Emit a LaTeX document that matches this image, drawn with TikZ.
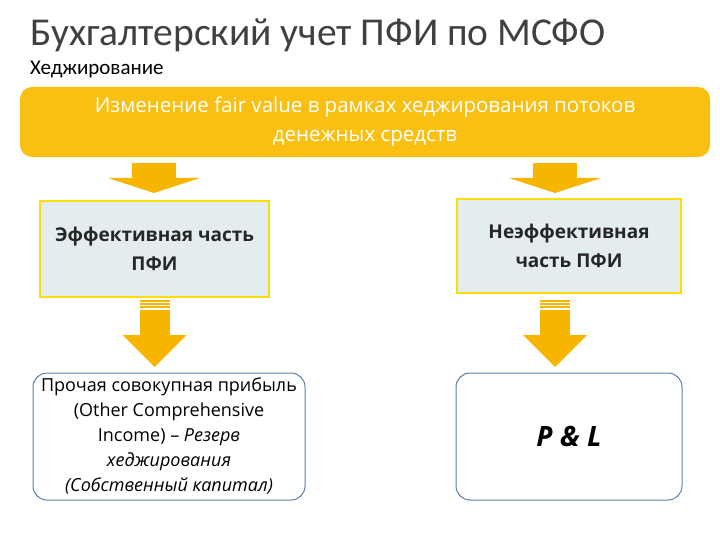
\documentclass[tikz,border=0pt]{standalone}
\usepackage{fontspec}
\setmainfont{Carlito}
\newfontfamily\opensans{Open Sans}
\begin{document}
\begin{tikzpicture}[x=1pt,y=-1pt,
  ybox/.style={draw=yellow!80!orange,line width=2pt,fill=boxbg,align=center,font=\opensans\fontsize{19}{29}\selectfont\bfseries,text=black!85},
  rbox/.style={draw=bordblue,line width=1pt,fill=white,rounded corners=14pt,align=center},
  yarrow/.style={fill=arrowy}]
\definecolor{arrowy}{HTML}{F7B500}
\definecolor{boxbg}{HTML}{E3ECEE}
\definecolor{bordblue}{HTML}{5B7FA6}
\definecolor{banner}{HTML}{F9C012}
\useasboundingbox (0,0) rectangle (720,540);
\node[anchor=base west,font=\fontsize{39.5}{40}\selectfont,text=black!75,inner sep=0] (title) at (30,46) {Бухгалтерский учет ПФИ по МСФО};
\node[anchor=base west,font=\fontsize{21}{24}\selectfont,inner sep=0] (sub) at (30,75) {Хеджирование};
\node[fill=banner,rounded corners=12pt,minimum width=690pt,minimum height=70pt,align=center,text=white,font=\opensans\fontsize{20.5}{29}\selectfont] (top) at (365,122) {Изменение fair value в рамках хеджирования потоков\\денежных средств};
\node[ybox,minimum width=229pt,minimum height=96pt] (eff) at (154.5,249) {Эффективная часть\\ПФИ};
\node[ybox,minimum width=224pt,minimum height=94pt] (ineff) at (569,246) {Неэффективная\\часть ПФИ};
\node[rbox,minimum width=272pt,minimum height=127pt,font=\opensans\fontsize{18}{25}\selectfont] (oci) at (169,436.5) {Прочая совокупная прибыль\\(Other Comprehensive\\Income) – \textit{Резерв}\\\textit{хеджирования}\\\textit{(Собственный капитал)}};
\node[rbox,minimum width=226pt,minimum height=127pt,font=\opensans\fontsize{28}{34}\selectfont\bfseries\itshape] (pl) at (569,436.5) {P \& L};
\foreach \cx in {154,555}{
 \fill[yarrow] (\cx-22,163) rectangle (\cx+22,178);
 \fill[yarrow] (\cx-46,178) -- (\cx+46,178) -- (\cx,193) -- cycle;
}
\foreach \cx in {154.5,555}{
 \foreach \yy in {300,303,306}{\fill[yarrow] (\cx-15,\yy) rectangle (\cx+15,\yy+1.6);}
 \fill[yarrow] (\cx-15,310) rectangle (\cx+15,335);
 \fill[yarrow] (\cx-32,335) -- (\cx+32,335) -- (\cx,367) -- cycle;
}
\end{tikzpicture}
\end{document}
